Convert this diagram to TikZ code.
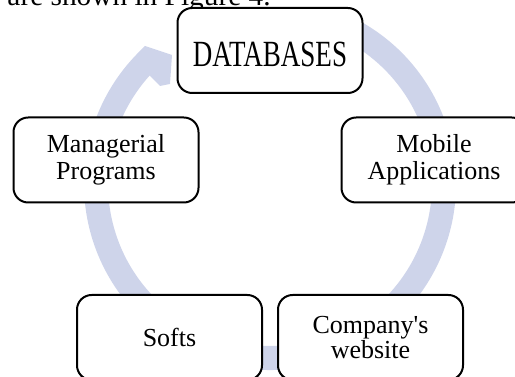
\documentclass[tikz,border=0pt]{standalone}
\usepackage{fontspec}
\setmainfont{Liberation Serif}[Ligatures=TeXOff]

\definecolor{ringblue}{RGB}{206,212,234}

\tikzset{every picture/.style={line width=0.75pt}}
\tikzset{
  cyclebox/.style={draw, line width=1.5pt, rounded corners=11pt, fill=white,
    minimum width=138.75pt, minimum height=63.75pt, inner sep=0pt,
    align=center, font=\fontsize{19.5}{20}\selectfont},
}

\begin{document}
\begin{tikzpicture}[x=0.75pt,y=0.75pt,yscale=-1,xscale=1]
	\clip (0,0) rectangle (515,377);

	%Shape: Circular Arrow
	\fill [ringblue] (270,184) ++(-65:186) arc [start angle=-65, end angle=226, radius=186] -- (145,46) -- (172,55) -- (170,84) -- (160,86) -- (149.6,75.6) arc [start angle=222, end angle=-65, radius=162] -- cycle ;

	% Text Node
	\node [anchor=base west, inner sep=0pt, font=\fontsize{22}{24}\selectfont] (figref) at (7,6) {are shown in Figure 4.};

	% Text Node
	\node [cyclebox, text height=24.3pt, text depth=0pt] (db) at (270,50.5) {\scalebox{1.04}[1.42]{DATABASES}};
	% Text Node
	\node [cyclebox] (mgr) at (106,160) {Managerial\\Programs};
	% Text Node
	\node [cyclebox] (mob) at (434,160) {Mobile\\Applications};
	% Text Node
	\node [cyclebox] (soft) at (169.5,337.5) {Softs};
	% Text Node
	\node [cyclebox, font=\fontsize{19.5}{16.5}\selectfont] (web) at (370.5,337.5) {Company's\\website};

\end{tikzpicture}
\end{document}
